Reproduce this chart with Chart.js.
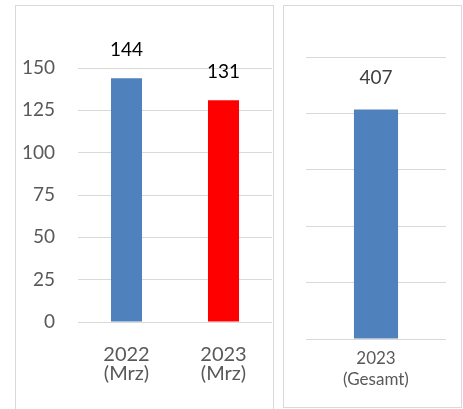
<!DOCTYPE html>
<html>
<head>
<meta charset="utf-8">
<script src="https://cdn.jsdelivr.net/npm/chart.js@4/dist/chart.umd.min.js"></script>
<style>
  body { margin: 0; background: #fff; }
  .box { position: absolute; border: 1px solid #d9d9d9; background: #fff; }
  #boxA { left: 15px; top: 5px; width: 257px; height: 420px; }
  #boxB { left: 283px; top: 5px; width: 177px; height: 401px; }
  canvas { display: block; }
</style>
</head>
<body>
<div class="box" id="boxA"><canvas id="chartA" width="256" height="403"></canvas></div>
<div class="box" id="boxB"><canvas id="chartB" width="176" height="400"></canvas></div>
<script>
// monthly comparison
const monthLabels = [['2022', '(Mrz)'], ['2023', '(Mrz)']];
const monthValues = [144, 131];
const monthColors = ['#4f81bd', '#ff0000'];
const monthTicks = [0, 25, 50, 75, 100, 125, 150];

// whole year
const totalLabels = [['2023', '(Gesamt)']];
const totalValues = [407];

Chart.defaults.font.family = 'Lato, "Open Sans", sans-serif';
Chart.defaults.color = '#595959';

// draws the value above each bar
const valueLabels = {
  id: 'valueLabels',
  afterDatasetsDraw(chart, args, opts) {
    const ctx = chart.ctx;
    const meta = chart.getDatasetMeta(0);
    ctx.save();
    ctx.font = opts.size + 'px Lato, "Open Sans", sans-serif';
    ctx.fillStyle = opts.color;
    ctx.textAlign = 'center';
    ctx.textBaseline = 'middle';
    meta.data.forEach((bar, i) => {
      ctx.fillText(chart.data.datasets[0].data[i], bar.x, bar.y - opts.offset);
    });
    ctx.restore();
  }
};

new Chart(document.getElementById('chartA'), {
  type: 'bar',
  data: {
    labels: monthLabels,
    datasets: [{
      data: monthValues,
      backgroundColor: monthColors,
      borderWidth: 0,
      barPercentage: 0.64,
      categoryPercentage: 0.5
    }]
  },
  options: {
    responsive: false,
    animation: false,
    layout: { padding: { top: 62, right: 0, left: 0, bottom: 0 } },
    scales: {
      x: {
        grid: { display: false },
        border: { display: false },
        ticks: { font: { size: 20, lineHeight: 0.95 }, padding: 15, maxRotation: 0 },
        afterFit(scale) { scale.height = 87; }
      },
      y: {
        min: 0,
        max: 150,
        afterBuildTicks(scale) { scale.ticks = monthTicks.map(v => ({ value: v })); },
        grid: { color: '#d9d9d9', drawTicks: false, lineWidth: 1 },
        border: { display: false },
        ticks: { font: { size: 19 }, padding: 23 },
        afterFit(scale) { scale.width = 62; }
      }
    },
    plugins: {
      legend: { display: false },
      tooltip: { enabled: false },
      valueLabels: { size: 19, color: '#000000', offset: 28 }
    }
  },
  plugins: [valueLabels]
});

new Chart(document.getElementById('chartB'), {
  type: 'bar',
  data: {
    labels: totalLabels,
    datasets: [{
      data: totalValues,
      backgroundColor: '#4f81bd',
      borderWidth: 0,
      barPercentage: 0.63,
      categoryPercentage: 0.5
    }]
  },
  options: {
    responsive: false,
    animation: false,
    layout: { padding: { top: 51, right: 14, left: 22, bottom: 0 } },
    scales: {
      x: {
        grid: { display: false },
        border: { display: false },
        ticks: { font: { size: 17, lineHeight: 1.25 }, padding: 1, maxRotation: 0 },
        afterFit(scale) { scale.height = 67; }
      },
      y: {
        min: 0,
        max: 500,
        ticks: { display: false, stepSize: 100 },
        grid: { color: '#d9d9d9', drawTicks: false, lineWidth: 1 },
        border: { display: false },
        afterFit(scale) { scale.width = 0; }
      }
    },
    plugins: {
      legend: { display: false },
      tooltip: { enabled: false },
      valueLabels: { size: 19, color: '#404040', offset: 32 }
    }
  },
  plugins: [valueLabels]
});
</script>
</body>
</html>
